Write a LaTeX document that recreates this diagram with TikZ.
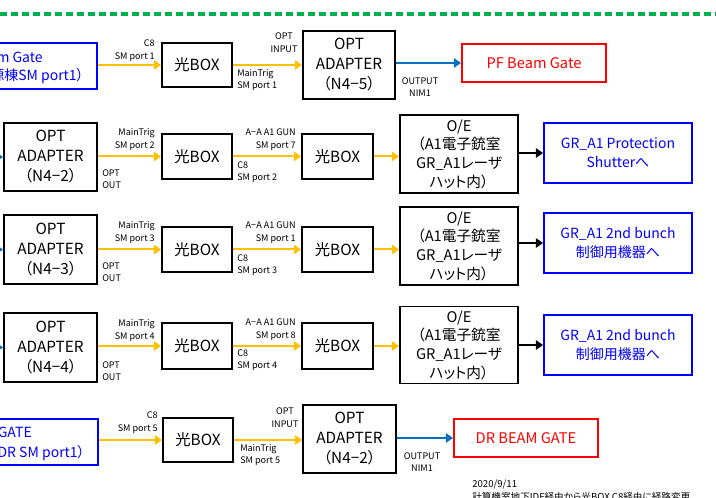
\documentclass[tikz,border=0pt]{standalone}
\usepackage{fontspec}
\setmainfont[RawFeature=+palt]{Noto Sans CJK JP}
\usetikzlibrary{arrows.meta}
\newdimen\pxu \pxu=0.75pt
\definecolor{myyellow}{RGB}{255,192,0}
\definecolor{myblue}{RGB}{0,112,192}
\definecolor{mygreen}{RGB}{0,176,80}
\definecolor{pureblue}{RGB}{0,0,255}
\definecolor{purered}{RGB}{255,0,0}
\begin{document}
\begin{tikzpicture}[x=0.75pt,y=-0.75pt,
  box/.style={draw, line width=1.3pt, inner sep=0pt, align=center, font=\fontsize{11.5}{15}\selectfont},
  oebox/.style={box, font=\fontsize{11}{14}\selectfont},
  bluebox/.style={draw=pureblue, text=pureblue, line width=1.3pt, inner sep=0pt, align=center, font=\fontsize{10.5}{14.5}\selectfont},
  redbox/.style={draw=purered, text=purered, line width=1.3pt, inner sep=0pt, align=center, font=\fontsize{11}{14}\selectfont},
  lbl/.style={inner sep=0pt, font=\fontsize{6.8}{9.5}\selectfont},
  bluetxt/.style={inner sep=0pt, text=pureblue, font=\fontsize{10.5}{14.5}\selectfont},
  yarrow/.style={draw=myyellow, line width=1.5pt, -{Triangle[length=5.5pt,width=7pt]}},
  barrow/.style={draw=myblue, line width=1.5pt, -{Triangle[length=5.5pt,width=7pt]}},
  karrow/.style={draw=black, line width=1.5pt, -{Triangle[length=5.5pt,width=7pt]}}
]
\useasboundingbox (0,0) rectangle (716,498);
% green dashed separator
\coordinate (gl) at (0,14);
\coordinate (gr) at (716,14);
\draw[mygreen, line width=2.3pt, dash pattern=on 5.25pt off 3pt] (gl) -- (gr);

% ---------- Row 1 ----------
\node[bluebox, minimum width=177\pxu, minimum height=46\pxu] (g1) at (8.5,66) {};
\node[bluetxt, anchor=east] (g1a) at (43,57) {PF Beam Gate};
\node[bluetxt, anchor=east] (g1b) at (84,76) {（PF光源棟SM port1）};
\node[box, minimum width=70\pxu, minimum height=44\pxu] (b1) at (197,65) {光BOX};
\node[box, minimum width=92\pxu, minimum height=68\pxu] (a1) at (349,65) {OPT\\ADAPTER\\（N4−5）};
\node[redbox, minimum width=144\pxu, minimum height=38\pxu] (r1) at (534,63) {PF Beam Gate};
\draw[yarrow] (g1.east |- b1) -- (b1.west);
\draw[yarrow] (b1.east) -- (b1.east -| a1.west);
\draw[barrow] (a1.east |- r1) -- (r1.west);
\node[lbl, anchor=south east, align=right] (l1a) at (155,62) {C8\\SM port 1};
\node[lbl, anchor=south, align=center] (l1b) at (284,53) {OPT\\INPUT};
\node[lbl, anchor=north west, align=left] (l1c) at (237,69) {MainTrig\\SM port 1};
\node[lbl, anchor=north, align=center] (l1d) at (420,77) {OUTPUT\\NIM1};

% ---------- Row 2 ----------
\coordinate (s2) at (-10,157);
\node[box, minimum width=93\pxu, minimum height=68\pxu] (a2) at (50.5,157) {OPT\\ADAPTER\\（N4−2）};
\node[box, minimum width=70\pxu, minimum height=45\pxu] (b2a) at (197,156.5) {光BOX};
\node[box, minimum width=71\pxu, minimum height=45\pxu] (b2b) at (337.5,156.5) {光BOX};
\node[oebox, minimum width=118\pxu, minimum height=78\pxu] (o2) at (459,154) {O/E\\（A1電子銃室\\GR\_A1レーザ\\ハット内）};
\node[bluebox, minimum width=148\pxu, minimum height=60\pxu] (t2) at (618,153) {GR\_A1 Protection\\Shutterへ};
\draw[barrow] (s2) -- (a2.west);
\draw[yarrow] (a2.east |- b2a) -- (b2a.west);
\draw[yarrow] (b2a.east) -- (b2b.west);
\draw[yarrow] (b2b.east) -- (b2b.east -| o2.west);
\draw[karrow] (o2.east |- t2) -- (t2.west);
\node[lbl, anchor=south east, align=right] (l2a) at (155,151) {MainTrig\\SM port 2};
\node[lbl, anchor=north west, align=left] (l2b) at (102,169) {OPT\\OUT};
\node[lbl, anchor=south east, align=right] (l2c) at (296,151) {A−A A1 GUN\\SM port 7};
\node[lbl, anchor=north west, align=left] (l2d) at (237,161) {C8\\SM port 2};

% ---------- Row 3 ----------
\coordinate (s3) at (-10,249.5);
\node[box, minimum width=93\pxu, minimum height=69\pxu] (a3) at (50.5,249.5) {OPT\\ADAPTER\\（N4−3）};
\node[box, minimum width=70\pxu, minimum height=45\pxu] (b3a) at (197,249.5) {光BOX};
\node[box, minimum width=71\pxu, minimum height=45\pxu] (b3b) at (337.5,249.5) {光BOX};
\node[oebox, minimum width=118\pxu, minimum height=78\pxu] (o3) at (459,246) {O/E\\（A1電子銃室\\GR\_A1レーザ\\ハット内）};
\node[bluebox, minimum width=148\pxu, minimum height=60\pxu] (t3) at (618,243) {GR\_A1 2nd bunch\\制御用機器へ};
\draw[barrow] (s3) -- (a3.west);
\draw[yarrow] (a3.east |- b3a) -- (b3a.west);
\draw[yarrow] (b3a.east) -- (b3b.west);
\draw[yarrow] (b3b.east) -- (b3b.east -| o3.west);
\draw[karrow] (o3.east |- t3) -- (t3.west);
\node[lbl, anchor=south east, align=right] (l3a) at (155,244) {MainTrig\\SM port 3};
\node[lbl, anchor=north west, align=left] (l3b) at (102,262) {OPT\\OUT};
\node[lbl, anchor=south east, align=right] (l3c) at (296,244) {A−A A1 GUN\\SM port 1};
\node[lbl, anchor=north west, align=left] (l3d) at (237,254) {C8\\SM port 3};

% ---------- Row 4 ----------
\coordinate (s4) at (-10,347);
\node[box, minimum width=93\pxu, minimum height=69\pxu] (a4) at (50.5,347.5) {OPT\\ADAPTER\\（N4−4）};
\node[box, minimum width=70\pxu, minimum height=46\pxu] (b4a) at (197,346) {光BOX};
\node[box, minimum width=71\pxu, minimum height=46\pxu] (b4b) at (337.5,346) {光BOX};
\node[oebox, minimum width=118\pxu, minimum height=77\pxu] (o4) at (459,345) {O/E\\（A1電子銃室\\GR\_A1レーザ\\ハット内）};
\node[bluebox, minimum width=148\pxu, minimum height=60\pxu] (t4) at (618,345) {GR\_A1 2nd bunch\\制御用機器へ};
\draw[barrow] (s4) -- (a4.west);
\draw[yarrow] (a4.east |- b4a) -- (b4a.west);
\draw[yarrow] (b4a.east) -- (b4b.west);
\draw[yarrow] (b4b.east) -- (b4b.east -| o4.west);
\draw[karrow] (o4.east |- t4) -- (t4.west);
\node[lbl, anchor=south east, align=right] (l4a) at (155,342) {MainTrig\\SM port 4};
\node[lbl, anchor=north west, align=left] (l4b) at (102,361) {OPT\\OUT};
\node[lbl, anchor=south east, align=right] (l4c) at (296,341) {A−A A1 GUN\\SM port 8};
\node[lbl, anchor=north west, align=left] (l4d) at (237,349) {C8\\SM port 4};

% ---------- Row 5 ----------
\node[bluebox, minimum width=178\pxu, minimum height=46\pxu] (g5) at (9,442) {};
\node[bluetxt, anchor=east] (g5a) at (32,432) {DR BEAM GATE};
\node[bluetxt, anchor=east] (g5b) at (85,453) {（DR SM port1）};
\node[box, minimum width=70\pxu, minimum height=44\pxu] (b5) at (198,440) {光BOX};
\node[box, minimum width=93\pxu, minimum height=68\pxu] (a5) at (349.5,439) {OPT\\ADAPTER\\（N4−2）};
\node[redbox, minimum width=144\pxu, minimum height=38\pxu] (r5) at (526,438) {DR BEAM GATE};
\draw[yarrow] (g5.east |- b5) -- (b5.west);
\draw[yarrow] (b5.east) -- (b5.east -| a5.west);
\draw[barrow] (a5.east |- r5) -- (r5.west);
\node[lbl, anchor=south east, align=right] (l5a) at (158,434) {C8\\SM port 5};
\node[lbl, anchor=south, align=center] (l5b) at (285,428) {OPT\\INPUT};
\node[lbl, anchor=north west, align=left] (l5c) at (240,444) {MainTrig\\SM port 5};
\node[lbl, anchor=north, align=center] (l5d) at (422,452) {OUTPUT\\NIM1};

% ---------- note ----------
\node[lbl, anchor=north west, align=left, font=\fontsize{7.2}{9.5}\selectfont] (note) at (472,480) {2020/9/11\\計算機室地下IDF経由から光BOX C8経由に経路変更};
\end{tikzpicture}
\end{document}
